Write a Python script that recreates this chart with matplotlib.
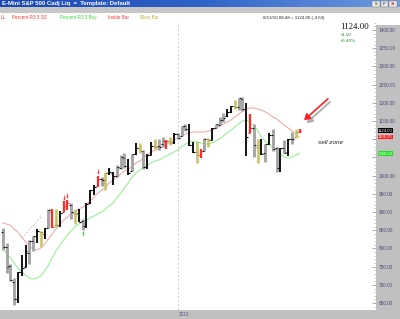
import matplotlib
matplotlib.use("Agg")
import matplotlib.pyplot as plt
import matplotlib.transforms as mtransforms
from matplotlib.patches import Rectangle, FancyArrowPatch
from matplotlib.colors import LinearSegmentedColormap
from matplotlib.ticker import MultipleLocator, FuncFormatter
import numpy as np
import pandas as pd

plt.rcParams['font.family'] = ['Liberation Sans', 'DejaVu Sans']

# ---------------- data (weekly bars, E-mini S&P 500 continuous adjusted) -------------
week_end = pd.date_range("2009-02-13", "2010-08-13", freq="W-FRI")
opens = [846, 804, 751, 708, 661, 734, 750, 787, 820, 833, 846, 840, 857, 900, 865, 865,
         901, 918, 920, 897, 898, 876, 862, 924, 960, 972, 990, 980, 1008, 1007, 1000, 1022,
         1048, 1027, 1014, 1060, 1076, 1068, 1025, 1058, 1082, 1082, 1086, 1094, 1096, 1093,
         1115, 1108, 1137, 1129, 1084, 1066, 1057, 1068, 1102, 1097, 1130, 1140, 1152, 1164,
         1175, 1190, 1188, 1211, 1184, 1118, 1132, 1080, 1083, 1061, 1088, 1112, 1076, 1027,
         1077, 1064, 1101, 1106, 1121]
highs = [855, 814, 758, 718, 736, 781, 810, 823, 834, 853, 849, 856, 908, 908, 908, 904,
         929, 934, 926, 908, 909, 880, 925, 961, 975, 1000, 995, 1009, 1021, 1011, 1030, 1056,
         1062, 1045, 1059, 1089, 1089, 1071, 1059, 1093, 1101, 1100, 1107, 1098, 1106, 1116,
         1118, 1137, 1142, 1142, 1093, 1096, 1073, 1104, 1104, 1131, 1143, 1161, 1172, 1182,
         1190, 1209, 1213, 1216, 1200, 1170, 1143, 1100, 1101, 1088, 1116, 1127, 1079, 1077,
         1098, 1102, 1119, 1127, 1129]
lows = [796, 732, 712, 644, 650, 725, 750, 757, 792, 814, 804, 825, 856, 856, 858, 859,
        901, 907, 881, 866, 874, 851, 857, 922, 947, 969, 972, 960, 1001, 973, 997, 1018,
        1022, 1002, 1014, 1056, 1062, 1017, 1017, 1056, 1073, 1071, 1080, 1073, 1084, 1087,
        1102, 1108, 1122, 1082, 1063, 1036, 1048, 1068, 1078, 1097, 1130, 1139, 1148, 1161,
        1171, 1182, 1179, 1177, 1055, 1117, 1051, 1036, 1056, 1038, 1083, 1069, 1010, 1009,
        1062, 1055, 1087, 1103, 1118]
closes = [804, 748, 713, 661, 734, 746, 794, 821, 834, 847, 844, 855, 907, 860, 865, 897,
          918, 924, 899, 896, 874, 861, 922, 961, 969, 992, 987, 1008, 1011, 998, 1024, 1050,
          1026, 1007, 1059, 1075, 1067, 1024, 1057, 1081, 1079, 1079, 1094, 1094, 1090, 1114,
          1103, 1136, 1128, 1083, 1065, 1058, 1067, 1101, 1097, 1131, 1142, 1152, 1159, 1174,
          1190, 1188, 1213, 1182, 1106, 1132, 1083, 1085, 1060, 1088, 1113, 1072, 1021, 1077,
          1063, 1101, 1100, 1120, 1124]
# bar paint: k = black, g = gray, r = red, y = olive (blast)
bar_kind = ("g g g g k k k g g k y k g r y k r r g y k g k k k r g y k k g g g k g k y g k k "
            "y g g r y k g g g k k y r g y k g g g k k y g g k r g y k g k g g k g k g y r").split()
upper_ma = [870, 867, 864, 853, 845, 831, 818, 807, 798, 796, 801, 812, 826, 840, 853, 867,
            878, 886, 895, 900, 908, 914, 922, 930, 941, 952, 960, 969, 980, 988, 996, 1004,
            1013, 1018, 1026, 1035, 1040, 1048, 1057, 1065, 1070, 1076, 1081, 1087, 1092, 1098,
            1103, 1109, 1114, 1117, 1120, 1120, 1120, 1120, 1123, 1125, 1131, 1136, 1142, 1147,
            1153, 1161, 1169, 1177, 1183, 1186, 1186, 1183, 1180, 1175, 1169, 1161, 1156, 1147,
            1139, 1131, 1123, 1114, 1106.25]
lower_ma = [801, 787, 774, 760, 746, 735, 727, 719, 716, 719, 724, 738, 754, 774, 793, 809,
            823, 837, 848, 859, 867, 873, 878, 884, 889, 895, 900, 908, 917, 925, 939, 952,
            966, 980, 996, 1007, 1015, 1024, 1029, 1035, 1040, 1043, 1048, 1054, 1059, 1065,
            1070, 1079, 1087, 1092, 1095, 1092, 1090, 1087, 1087, 1090, 1095, 1101, 1109, 1117,
            1125, 1134, 1142, 1150, 1153, 1147, 1136, 1125, 1106, 1095, 1087, 1076, 1068, 1059,
            1051, 1048, 1051, 1057, 1060.50]
sell_signal_idx = [16, 17, 25]
buy_signal_idx = [21]
legend_labels = ["LL", "Percent R3 3 SS", "Percent R3 3 Buy", "Inside Bar", "Blast Bar"]
legend_colors = ["#ff3333", "#ff3333", "#33dd33", "#ff3333", "#b8b040"]
legend_x_px = [1, 12, 60, 108, 140]
last_change = 4.50
last_pct = 0.40

# ---------------- figure chrome -------------
W, H = 400, 319
fig = plt.figure(figsize=(W / 100, H / 100), dpi=100)
fig.patch.set_facecolor("white")


def fx(x):
    return x / W


def fy(y):
    return 1 - y / H


# title bar with gradient
ax_t = fig.add_axes([0, fy(7.5), 1, 7.5 / H])
grad = np.linspace(0, 1, 256).reshape(1, -1)
ax_t.imshow(grad, aspect="auto", extent=[0, 1, 0, 1],
            cmap=LinearSegmentedColormap.from_list("tb", ["#1c48b4", "#2f62c8", "#6f9be0"]))
ax_t.set_axis_off()
fig.text(fx(2), fy(4), "E-Mini S&P 500 Cadj Liq  =  Template: Default", color="white",
         fontsize=4.3, fontweight="bold", va="center", ha="left")
for bx, lab, col in [(372, "S", "#333333"), (380.5, "P", "#333333"), (389, "\u2716", "#dd2020")]:
    fig.patches.append(Rectangle((fx(bx), fy(7)), 7.5 / W, 6 / H, transform=fig.transFigure,
                                 fc="#e6e6e6", ec="#7a7a7a", lw=0.3, zorder=5))
    fig.text(fx(bx + 3.75), fy(4), lab, color=col, fontsize=3, ha="center", va="center",
             zorder=6, family=["DejaVu Sans"])

# gray strip under title
fig.patches.append(Rectangle((0, fy(13)), 1, 5.5 / H, transform=fig.transFigure,
                             fc="#c6c6c6", ec="none", zorder=-2))
# right axis band and bottom band
fig.patches.append(Rectangle((fx(375.5), 0), 24.5 / W, fy(25), transform=fig.transFigure,
                             fc="#c0c0c0", ec="none", zorder=-2))
fig.patches.append(Rectangle((0, 0), 1, 9 / H, transform=fig.transFigure,
                             fc="#c0c0c0", ec="none", zorder=-2))

# legend row
for lab, col, xp in zip(legend_labels, legend_colors, legend_x_px):
    fig.text(fx(xp), fy(17.5), lab, color=col, fontsize=3.3, va="center", ha="left")

fig.text(fx(263), fy(17.5), "8/13/10 08:48 = %.2f (-%.2f)" % (closes[-1], last_change),
         color="#222222", fontsize=3.15, va="center", ha="left")
fig.text(fx(340), fy(27), "%.2f" % closes[-1], color="#111111", fontsize=6.4,
         va="center", ha="left", family=["Liberation Serif"])
fig.text(fx(340), fy(35), "+%.2f" % last_change, color="#1a8a1a", fontsize=3.7,
         va="center", ha="left", family=["Liberation Serif"])
fig.text(fx(340), fy(41.5), "+%.2f%%" % last_pct, color="#1a8a1a", fontsize=3.7,
         va="center", ha="left", family=["Liberation Serif"])

# ---------------- main price axes -------------
ax = fig.add_axes([0, fy(310), 375.5 / W, (310 - 22) / H])
ax.set_zorder(1)
ax.patch.set_alpha(0)
n = len(closes)
idx = np.arange(n)
ax.set_xlim(-0.71, 97.97)
for s in ax.spines.values():
    s.set_visible(False)
ax.set_xticks([])

box_values = [closes[-1], upper_ma[-1], lower_ma[-1]]


def price_fmt(v, pos):
    # axis tick labels that sit under a price box are covered in the original
    if any(abs(v - b) < 14 for b in box_values):
        return ""
    return "%.2f" % v


ax.yaxis.tick_right()
ax.yaxis.set_major_locator(MultipleLocator(50))
ax.yaxis.set_minor_locator(MultipleLocator(10))
ax.yaxis.set_major_formatter(FuncFormatter(price_fmt))
ax.tick_params(axis="y", which="major", direction="in", length=3.2, width=0.5,
               color="#8a8a8a", labelsize=3.4, labelcolor="#4b4b7b", pad=2.2)
ax.tick_params(axis="y", which="minor", direction="in", length=1.5, width=0.4,
               color="#a0a0a0")
ax.set_ylim(631, 1422)

# year separator
i2010 = int(np.where(week_end == pd.Timestamp("2010-01-01"))[0][0])
ax.axvline(i2010, color="#c4c4c4", lw=0.6, ls=(0, (2.5, 2.5)), zorder=0)
ax.text(i2010 + 0.2, 4.5 / H, "2010", transform=mtransforms.blended_transform_factory(
    ax.transData, fig.transFigure), fontsize=3.4, color="#5a5a8a", ha="left", va="center")

# moving bands
ax.plot(idx, upper_ma, color="#f5a0a0", lw=0.7, zorder=2)
ax.plot(idx, lower_ma, color="#8cf08c", lw=0.7, zorder=2)

# bars
bar_color = {"k": "#000000", "g": "#a6a6a6", "r": "#ff2a2a", "y": "#c9c46c"}
bar_lw = {"k": 1.3, "g": 2.1, "r": 1.6, "y": 1.9}
tick_color = {"k": "#000000", "g": "#1a1a1a", "r": "#ff2a2a", "y": "#a8a248"}
for i in range(n):
    kd = bar_kind[i]
    ax.vlines(i, lows[i], highs[i], color=bar_color[kd], lw=bar_lw[kd], zorder=3)
    ax.hlines(opens[i], i - 0.5, i, color=tick_color[kd], lw=0.8, zorder=4)
    ax.hlines(closes[i], i, i + 0.5, color=tick_color[kd], lw=0.8, zorder=4)

# signal arrows
for i in sell_signal_idx:
    ax.vlines(i, highs[i] + 6, highs[i] + 18, color="#ff3333", lw=0.6, zorder=4)
    ax.plot(i, highs[i] + 7, marker="v", ms=1.8, color="#ff3333", mec="none", zorder=4)
for i in buy_signal_idx:
    ax.vlines(i, lows[i] - 18, lows[i] - 6, color="#33dd33", lw=0.6, zorder=4)
    ax.plot(i, lows[i] - 7, marker="^", ms=1.8, color="#33dd33", mec="none", zorder=4)

# price labels on the axis
bt = mtransforms.blended_transform_factory(ax.transAxes, ax.transData)
for val, fc in zip(box_values, ["#000000", "#ff1a1a", "#22dd22"]):
    ax.text(1.006, val, "%.2f" % val, transform=bt, fontsize=3.1, color="white",
            ha="left", va="center", zorder=6,
            bbox=dict(boxstyle="square,pad=0.05", fc=fc, ec="none"))

# hand-drawn annotations
fig.add_artist(plt.Line2D([fx(22), fx(41)], [fy(238), fy(217)], transform=fig.transFigure,
                          color="#b4b4b4", lw=0.6, ls=(0, (2, 2))))
shadow = FancyArrowPatch((fx(332), fy(100)), (fx(304.5), fy(125)), transform=fig.transFigure,
                         arrowstyle="-|>,head_length=2.2,head_width=1.4", color="#b0b0b0",
                         lw=1.4, mutation_scale=1.5, zorder=5)
fig.add_artist(shadow)
arrow = FancyArrowPatch((fx(330), fy(97)), (fx(302), fy(122)), transform=fig.transFigure,
                        arrowstyle="-|>,head_length=2.2,head_width=1.4", color="#ff2020",
                        lw=1.2, mutation_scale=1.5, zorder=6)
fig.add_artist(arrow)
fig.text(fx(318), fy(142.5), "sell zone", fontsize=4.6, style="italic", color="#222222",
         va="center", ha="left")

fig.savefig("out.png", dpi=100, facecolor=fig.get_facecolor())
